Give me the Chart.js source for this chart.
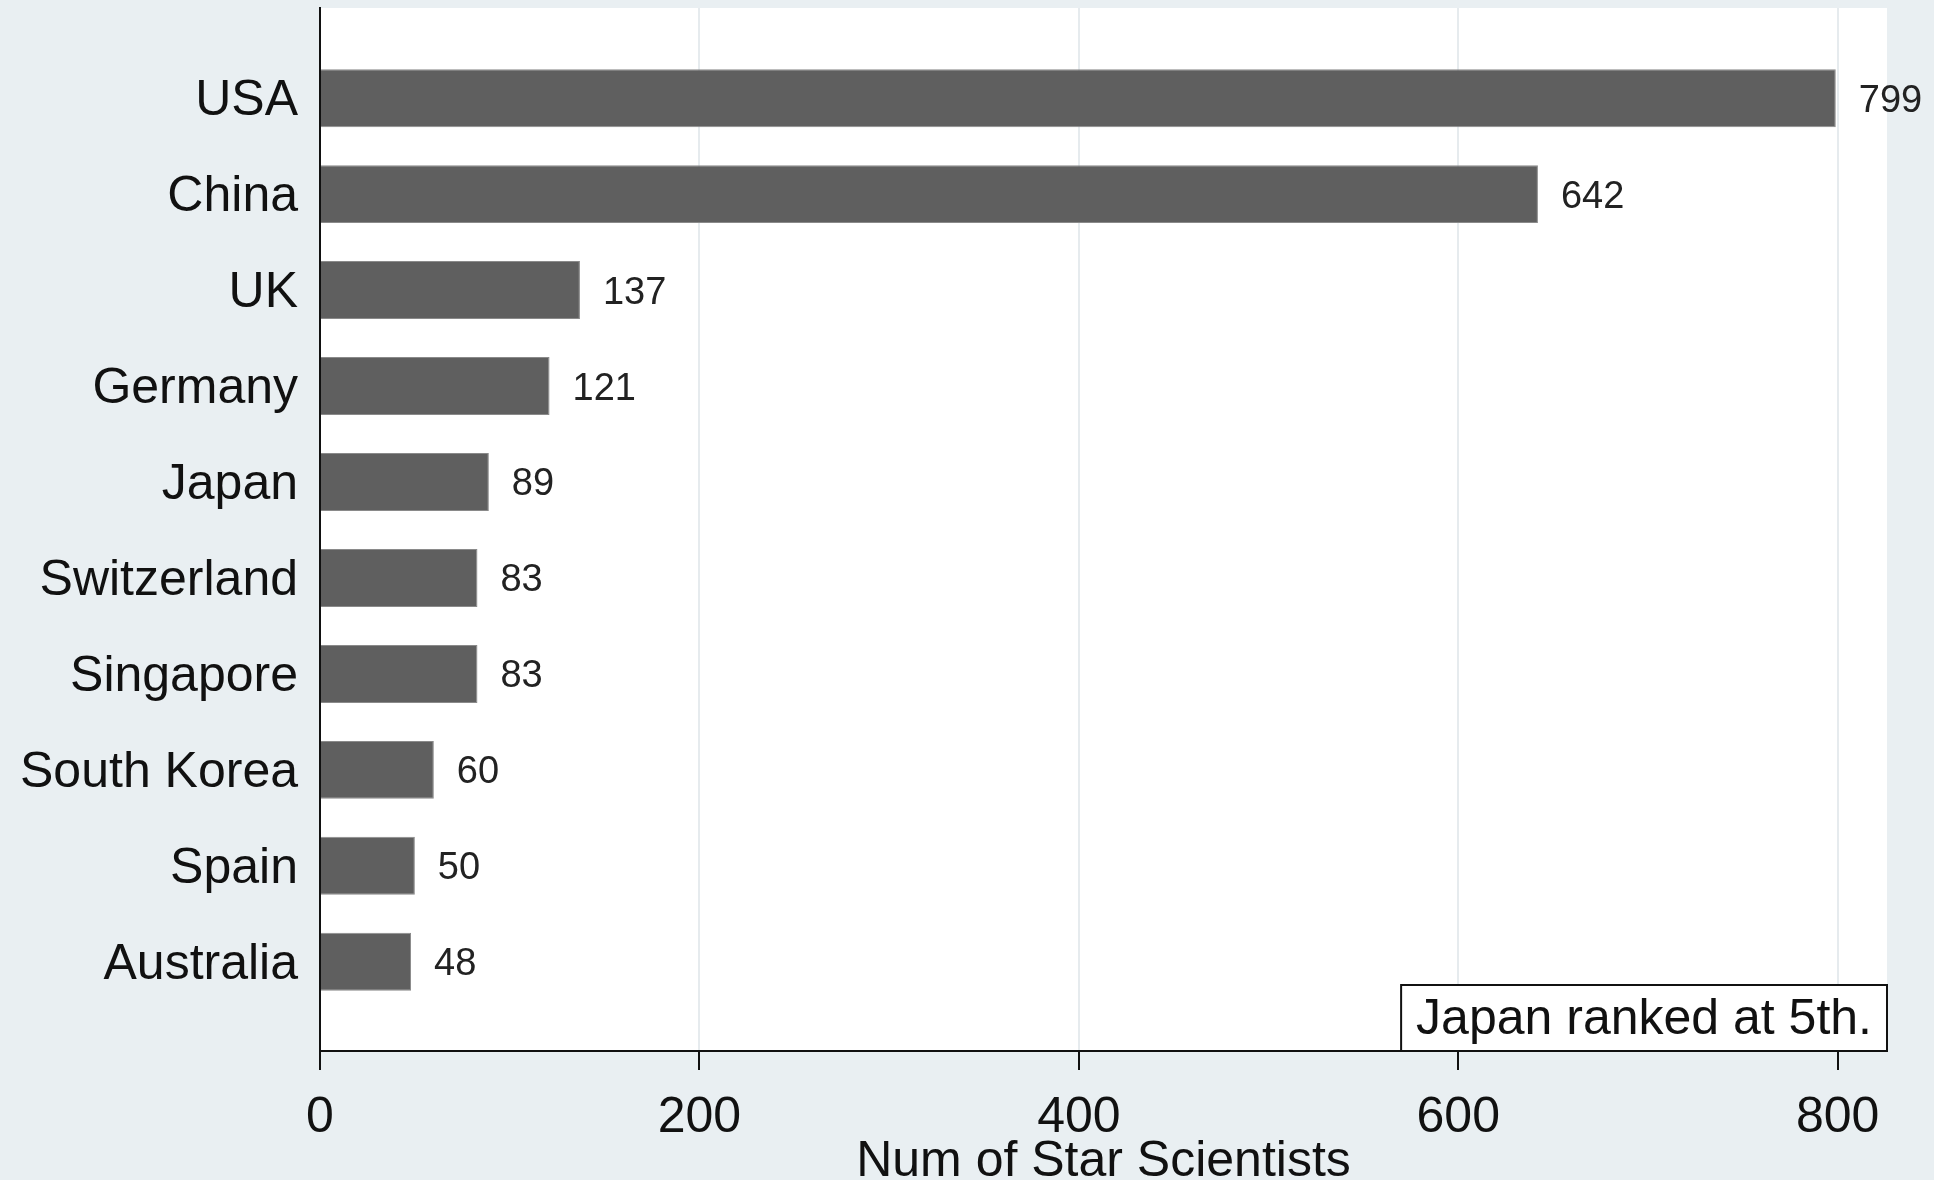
<!DOCTYPE html>
<html>
<head>
<meta charset="utf-8">
<script src="https://cdn.jsdelivr.net/npm/chart.js@4.4.1/dist/chart.umd.min.js"></script>
<style>
  html, body { margin: 0; padding: 0; overflow: hidden; background: #e9eff2; }
  #wrap { width: 1934px; height: 1192px; }
</style>
</head>
<body>
<div id="wrap"><canvas id="starChart"></canvas></div>
<script>
// Datos del gráfico
const countries = ['USA', 'China', 'UK', 'Germany', 'Japan', 'Switzerland', 'Singapore', 'South Korea', 'Spain', 'Australia'];
const starCounts = [799, 642, 137, 121, 89, 83, 83, 60, 50, 48];
const xTicks = [0, 200, 400, 600, 800];
const xTitle = 'Num of Star Scientists';
const noteText = 'Japan ranked at 5th.';

const FONT = '"Liberation Sans", Arial, sans-serif';

// fondo blanco del área del gráfico
const plotBg = {
    id: 'plotBg',
    beforeDraw(chart) {
        const { ctx, chartArea: a } = chart;
        ctx.save();
        ctx.fillStyle = '#ffffff';
        ctx.fillRect(a.left, a.top, a.right - a.left, a.bottom - a.top);
        ctx.restore();
    }
};

// etiquetas de valor y nota
const valueLabels = {
    id: 'valueLabels',
    afterDatasetsDraw(chart) {
        const { ctx } = chart;
        ctx.save();
        ctx.font = '38px ' + FONT;
        ctx.fillStyle = '#222';
        ctx.textBaseline = 'middle';
        chart.getDatasetMeta(0).data.forEach((bar, i) => {
            ctx.fillText(String(starCounts[i]), bar.x + 23, bar.y + 3);
        });
        ctx.restore();
    },
    afterDraw(chart) {
        const { ctx, chartArea: a } = chart;
        ctx.save();
        ctx.font = '50px ' + FONT;
        const w = ctx.measureText(noteText).width + 30;
        const h = 66;
        const x = a.right - w, y = a.bottom - h;
        ctx.fillStyle = '#fff';
        ctx.fillRect(x, y, w, h);
        ctx.lineWidth = 2;
        ctx.strokeStyle = '#111';
        ctx.strokeRect(x, y, w, h);
        ctx.fillStyle = '#111';
        ctx.textBaseline = 'middle';
        ctx.textAlign = 'center';
        ctx.fillText(noteText, x + w / 2, y + h / 2 + 2);
        ctx.restore();
    }
};

const ctx = document.getElementById('starChart');
new Chart(ctx, {
    type: 'bar',
    data: {
        datasets: [{
            data: starCounts.map((v, i) => ({ x: v, y: i })),
            backgroundColor: '#5f5f5f',
            borderColor: '#8a8a8a',
            borderWidth: 1,
            categoryPercentage: 1,
            barPercentage: 0.604
        }]
    },
    options: {
        indexAxis: 'y',
        responsive: true,
        maintainAspectRatio: false,
        animation: false,
        layout: { padding: { top: 8, right: 47, bottom: 0, left: 0 } },
        plugins: {
            legend: { display: false },
            tooltip: { enabled: false }
        },
        scales: {
            x: {
                type: 'linear',
                min: 0,
                max: 826,
                afterBuildTicks: (s) => { s.ticks = xTicks.map(v => ({ value: v })); },
                afterFit: (s) => { s.height = 141; s.paddingLeft = 0; s.paddingRight = 0; },
                ticks: { font: { size: 50, family: FONT }, color: '#111', padding: 18 },
                grid: { color: '#e6ebee', lineWidth: 2, tickColor: '#111', tickLength: 19, tickWidth: 2 },
                border: { display: true, color: '#111', width: 2 },
                title: {
                    display: true,
                    text: xTitle,
                    font: { size: 50, family: FONT },
                    color: '#111',
                    padding: 0
                }
            },
            y: {
                type: 'linear',
                reverse: true,
                offset: false,
                min: -0.94,
                max: 9.93,
                afterBuildTicks: (s) => { s.ticks = countries.map((c, i) => ({ value: i })); },
                afterFit: (s) => { s.width = 320; s.paddingTop = 0; s.paddingBottom = 0; },
                ticks: {
                    font: { size: 50, family: FONT },
                    color: '#111',
                    padding: 22,
                    labelOffset: 3,
                    callback: (v) => countries[v]
                },
                grid: { display: false, drawTicks: false, offset: false },
                border: { display: true, color: '#111', width: 2 }
            }
        }
    },
    plugins: [plotBg, valueLabels]
});
</script>
</body>
</html>
